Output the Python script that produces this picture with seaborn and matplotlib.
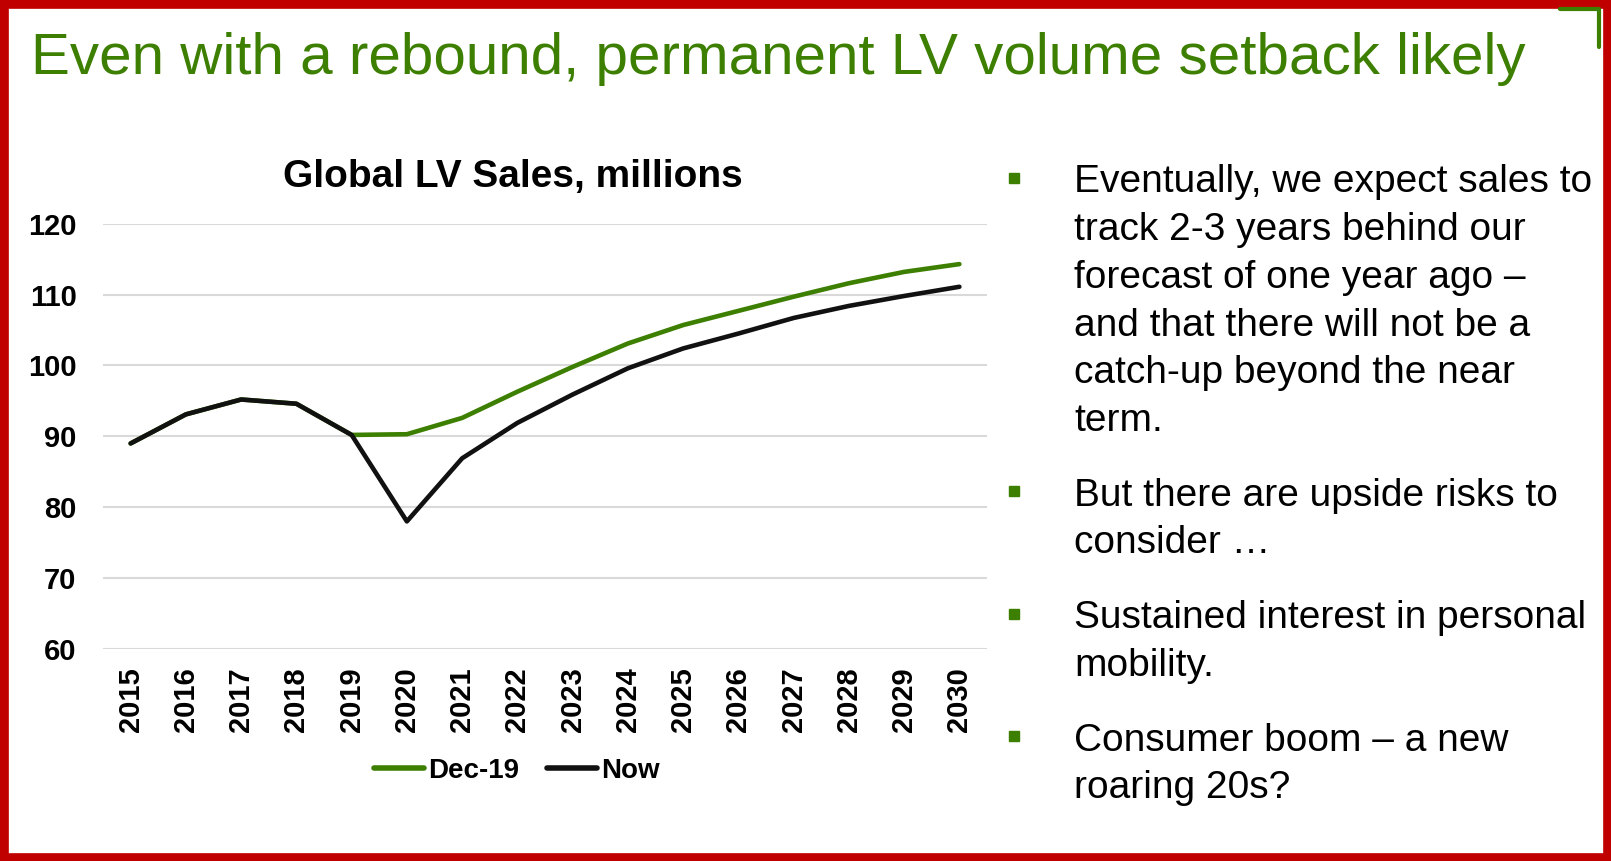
import pandas as pd
import seaborn as sns
import matplotlib.pyplot as plt
from matplotlib.patches import Rectangle
from matplotlib.lines import Line2D

# data
years = [2015, 2016, 2017, 2018, 2019, 2020, 2021, 2022,
         2023, 2024, 2025, 2026, 2027, 2028, 2029, 2030]
dec19 = [89.0, 93.1, 95.2, 94.6, 90.2, 90.3, 92.6, 96.3,
         99.8, 103.1, 105.7, 107.7, 109.7, 111.6, 113.2, 114.3]
now = [89.0, 93.1, 95.2, 94.6, 90.2, 78.0, 86.9, 91.9,
       95.9, 99.6, 102.4, 104.5, 106.7, 108.4, 109.8, 111.1]
series_names = ["Dec-19", "Now"]
yticks = [60, 70, 80, 90, 100, 110, 120]

slide_title = "Even with a rebound, permanent LV volume setback likely"
chart_title = "Global LV Sales, millions"
bullets = [
    ["Eventually, we expect sales to", "track 2-3 years behind our",
     "forecast of one year ago \u2013", "and that there will not be a",
     "catch-up beyond the near", "term."],
    ["But there are upside risks to", "consider \u2026"],
    ["Sustained interest in personal", "mobility."],
    ["Consumer boom \u2013 a new", "roaring 20s?"],
]

GREEN = "#3D7F00"
BLACK = "#111111"
RED = "#C00000"

df = pd.concat([
    pd.DataFrame({"Year": years, "Sales": dec19, "Series": series_names[0]}),
    pd.DataFrame({"Year": years, "Sales": now, "Series": series_names[1]}),
])

sns.set_style("white")
plt.rcParams["font.family"] = ["Liberation Sans", "DejaVu Sans"]
plt.rcParams["text.color"] = "black"
plt.rcParams["xtick.color"] = "black"
plt.rcParams["ytick.color"] = "black"

W, H = 1611, 861
fig = plt.figure(figsize=(W / 100, H / 100), dpi=100)

def fx(px):
    return px / W

def fy(py):
    return 1 - py / H

ax = fig.add_axes([fx(103), fy(649), fx(987) - fx(103), fy(223.7) - fy(649)])

sns.lineplot(data=df, x="Year", y="Sales", hue="Series",
             palette={"Dec-19": GREEN, "Now": BLACK},
             linewidth=3.3, ax=ax, solid_capstyle="round")

ax.set_xlim(years[0] - 0.5, years[-1] + 0.5)
ax.set_ylim(yticks[0], yticks[-1])
ax.set_xticks(years)
ax.set_xticklabels([str(y) for y in years], rotation=90,
                   fontsize=21, fontweight="bold", color="black")
ax.set_yticks(yticks)
ax.set_yticklabels([str(v) for v in yticks], fontsize=21,
                   fontweight="bold", color="black")
ax.tick_params(axis="both", length=0)
ax.tick_params(axis="y", pad=19)
ax.tick_params(axis="x", pad=13)
ax.set_xlabel("")
ax.set_ylabel("")
ax.grid(axis="y", color="#D9D9D9", linewidth=1.5)
ax.grid(axis="x", visible=False)
for s in ax.spines.values():
    s.set_visible(False)
ax.set_facecolor("none")

handles, labels = ax.get_legend_handles_labels()
ax.get_legend().remove()
leg = fig.legend(handles, labels, loc="center", bbox_to_anchor=(fx(517), fy(771)),
                 ncol=2, frameon=False, handlelength=1.8, handletextpad=0.15,
                 columnspacing=1.0, prop={"size": 20, "weight": "bold"})
for h in leg.legend_handles:
    h.set_linewidth(4)

fig.text(fx(513), fy(186.7), chart_title, ha="center", va="baseline",
         fontsize=28, fontweight="bold", color="black")

fig.text(fx(31), fy(74), slide_title, ha="left", va="baseline",
         fontsize=42, color=GREEN)

# bullet text
y = 192.5
pitch = 47.7
gap = 27
for para in bullets:
    fig.add_artist(Rectangle((fx(1009), fy(y - 9.5)), fx(10), 10 / H,
                             transform=fig.transFigure, color=GREEN))
    for line in para:
        fig.text(fx(1074), fy(y), line, ha="left", va="baseline",
                 fontsize=28, color="black")
        y += pitch
    y += gap

# slide frame and corner mark
fig.add_artist(Rectangle((0, 0), 1, 1, transform=fig.transFigure, fill=False,
                         edgecolor=RED, linewidth=12, clip_on=False))
fig.add_artist(Line2D([fx(1560), fx(1599), fx(1599)], [fy(9), fy(9), fy(47)],
                      transform=fig.transFigure, color=GREEN, linewidth=3))

fig.savefig("out.png", dpi=100)
plt.close()
